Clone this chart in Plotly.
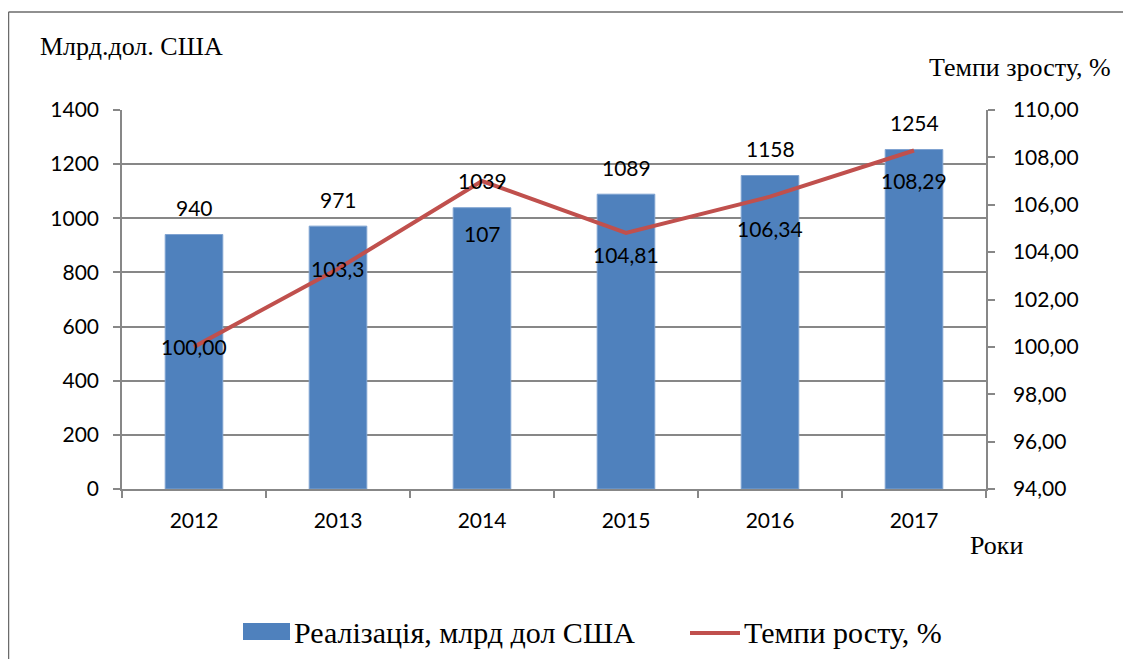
import plotly.graph_objects as go

years = ["2012", "2013", "2014", "2015", "2016", "2017"]
sales = [940, 971, 1039, 1089, 1158, 1254]
growth = [100.00, 103.3, 107.0, 104.81, 106.34, 108.29]
growth_labels = ["100,00", "103,3", "107", "104,81", "106,34", "108,29"]
sales_labels = ["940", "971", "1039", "1089", "1158", "1254"]
series_names = ["Реалізація, млрд дол США", "Темпи росту, %"]

# label offsets (pixels) for growth labels, relative to the points
growth_label_shift = [0, 0, -52, -22, -32, -30]

# page has an 8px body margin; figure sized to fit the window
O = 8
W, H = 1131 - O, 659 - O
L, R, T, B = 122 - O, 145, 110 - O, 170
PW, PH = W - L - R, H - T - B

def px(x):  # page pixel -> paper coord
    return (x - O - L) / PW

def py(y):
    return (O + T + PH - y) / PH

BLUE = "#4F81BD"
RED = "#C0504D"
GRID = "#878787"
NUMFONT = "Lato, Carlito, Calibri, sans-serif"
SERIF = "Liberation Serif"

fig = go.Figure()
fig.add_trace(go.Bar(
    x=years, y=sales, name=series_names[0],
    marker=dict(color=BLUE, line=dict(color="#7FA3D1", width=1)),
    yaxis="y", showlegend=False,
))
fig.add_trace(go.Scatter(
    x=years, y=growth, name=series_names[1], mode="lines",
    line=dict(color=RED, width=4), yaxis="y2", showlegend=False,
))

ann = []
for i, (v, t) in enumerate(zip(sales, sales_labels)):
    ann.append(dict(x=i, y=v, xref="x", yref="y", text=t, showarrow=False,
                    yanchor="middle", yshift=27,
                    font=dict(family=NUMFONT, size=21, color="black")))
for i, (v, t, s) in enumerate(zip(growth, growth_labels, growth_label_shift)):
    ann.append(dict(x=i, y=v, xref="x", yref="y2", text=t, showarrow=False,
                    yanchor="middle", yshift=s,
                    font=dict(family=NUMFONT, size=21, color="black")))

ann.append(dict(x=px(38), y=py(46), xref="paper", yref="paper", text="Млрд.дол. США",
                showarrow=False, xanchor="left", yanchor="middle",
                font=dict(family=SERIF, size=26, color="black")))
ann.append(dict(x=px(1113), y=py(67), xref="paper", yref="paper", text="Темпи зросту, %",
                showarrow=False, xanchor="right", yanchor="middle",
                font=dict(family=SERIF, size=26, color="black")))
ann.append(dict(x=px(1025), y=py(545), xref="paper", yref="paper", text="Роки",
                showarrow=False, xanchor="right", yanchor="middle",
                font=dict(family=SERIF, size=26, color="black")))
# custom legend texts
ann.append(dict(x=px(292), y=py(632), xref="paper", yref="paper", text=series_names[0],
                showarrow=False, xanchor="left", yanchor="middle",
                font=dict(family=SERIF, size=30, color="black")))
ann.append(dict(x=px(742), y=py(632), xref="paper", yref="paper", text=series_names[1],
                showarrow=False, xanchor="left", yanchor="middle",
                font=dict(family=SERIF, size=30, color="black")))

shapes = [
    dict(type="line", xref="paper", yref="paper", x0=px(8.5), x1=px(8.5), y0=py(12), y1=py(700),
         line=dict(color="#6b6b6b", width=1.5)),
    dict(type="line", xref="paper", yref="paper", x0=px(8.5), x1=px(1131), y0=py(12), y1=py(12),
         line=dict(color="#6b6b6b", width=1.5)),
    # legend swatches
    dict(type="rect", xref="paper", yref="paper", x0=px(243), x1=px(290), y0=py(623), y1=py(640),
         fillcolor=BLUE, line=dict(width=0)),
    dict(type="line", xref="paper", yref="paper", x0=px(690), x1=px(740), y0=py(633), y1=py(633),
         line=dict(color=RED, width=4)),
]

fig.update_layout(
    width=W, height=H,
    margin=dict(l=L, r=R, t=T, b=B, autoexpand=False),
    paper_bgcolor="white", plot_bgcolor="white",
    separators=", ",
    bargap=0.6,
    showlegend=False,
    xaxis=dict(
        type="category", range=[-0.5, 5.5], showline=True, linecolor=GRID, linewidth=1.5,
        ticks="outside", tickson="boundaries", ticklen=7, tickcolor=GRID, tickwidth=1.5,
        tickfont=dict(family=NUMFONT, size=21, color="black"), ticklabelstandoff=12,
        showgrid=False, zeroline=False,
    ),
    yaxis=dict(
        range=[0, 1400], dtick=200, showline=True, linecolor=GRID, linewidth=1.5,
        ticks="outside", ticklen=7, tickcolor=GRID, tickwidth=1.5,
        showgrid=True, gridcolor=GRID, gridwidth=1.5, zeroline=False,
        tickfont=dict(family=NUMFONT, size=21, color="black"), ticklabelstandoff=10,
    ),
    yaxis2=dict(
        range=[94, 110], dtick=2, overlaying="y", side="right",
        showline=True, linecolor=GRID, linewidth=1.5,
        ticks="outside", ticklen=7, tickcolor=GRID, tickwidth=1.5,
        showgrid=False, zeroline=False, tickformat=".2f",
        tickfont=dict(family=NUMFONT, size=21, color="black"), ticklabelstandoff=14,
    ),
    annotations=ann,
    shapes=shapes,
)

fig.write_html("out.html")
